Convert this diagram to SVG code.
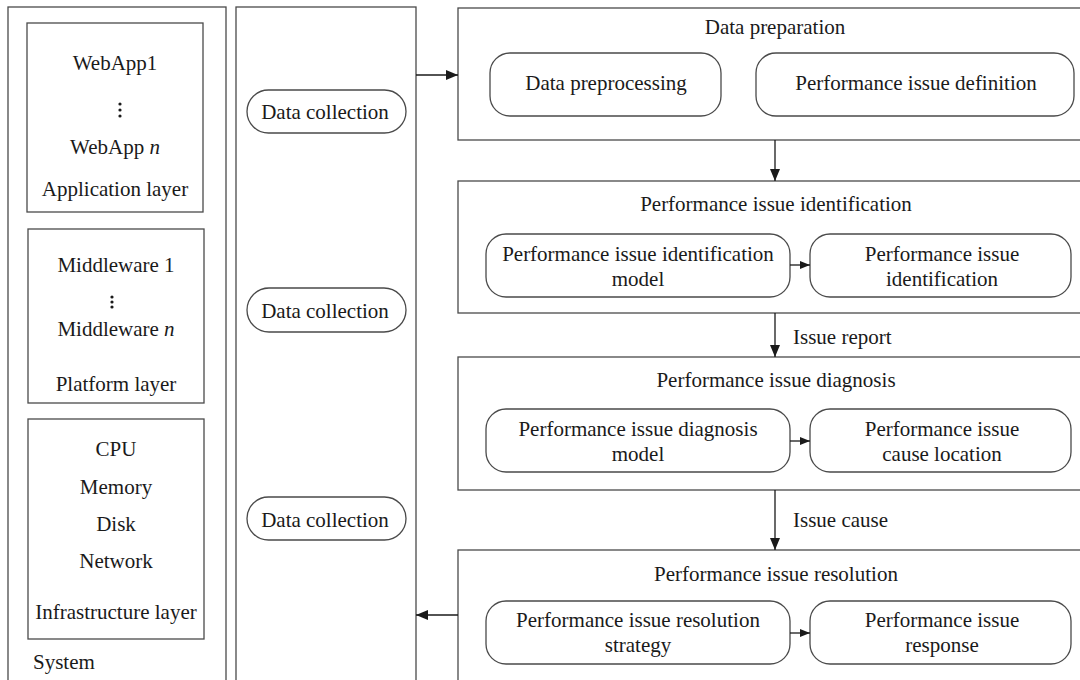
<svg xmlns="http://www.w3.org/2000/svg" width="1080" height="680" viewBox="0 0 1080 680">
  <style>
    .box { fill: none; stroke: #4a4a4a; stroke-width: 1.3; }
    .pill { fill: #fff; stroke: #4a4a4a; stroke-width: 1.3; }
    .t { font-family: "Liberation Serif", "Times New Roman", serif; font-size: 21px; fill: #1a1a1a; text-anchor: middle; }
    .tl { text-anchor: start; }
    .wire { fill: none; stroke: #1a1a1a; stroke-width: 1.3; }
  </style>
  <defs>
    <marker id="arrow" viewBox="0 0 12 10" refX="12" refY="5" markerWidth="12" markerHeight="10" markerUnits="userSpaceOnUse" orient="auto">
      <path d="M0,0 L12,5 L0,10 Z" fill="#1a1a1a"/>
    </marker>
    <marker id="arrowSmall" viewBox="0 0 10 8" refX="10" refY="4" markerWidth="10" markerHeight="8" markerUnits="userSpaceOnUse" orient="auto">
      <path d="M0,0 L10,4 L0,8 Z" fill="#1a1a1a"/>
    </marker>
  </defs>
  <rect width="1080" height="680" fill="#fff"/>

  <!-- System column with its three layers -->
  <g id="system">
    <rect class="box" x="8" y="7" width="218" height="690"/>
    <text class="t tl" x="33" y="669">System</text>
  </g>
  <g id="application-layer">
    <rect class="box" x="27" y="23" width="176" height="189"/>
    <text class="t" x="115" y="70">WebApp1</text>
    <circle cx="120" cy="104" r="1.6" fill="#1a1a1a"/>
    <circle cx="120" cy="110" r="1.6" fill="#1a1a1a"/>
    <circle cx="120" cy="116" r="1.6" fill="#1a1a1a"/>
    <text class="t" x="115" y="154">WebApp <tspan font-style="italic">n</tspan></text>
    <text class="t" x="115" y="196">Application layer</text>
  </g>
  <g id="platform-layer">
    <rect class="box" x="28" y="229" width="176" height="174"/>
    <text class="t" x="116" y="272">Middleware 1</text>
    <circle cx="112" cy="297" r="1.6" fill="#1a1a1a"/>
    <circle cx="112" cy="302" r="1.6" fill="#1a1a1a"/>
    <circle cx="112" cy="307" r="1.6" fill="#1a1a1a"/>
    <text class="t" x="116" y="336">Middleware <tspan font-style="italic">n</tspan></text>
    <text class="t" x="116" y="391">Platform layer</text>
  </g>
  <g id="infrastructure-layer">
    <rect class="box" x="28" y="419" width="176" height="220"/>
    <text class="t" x="116" y="456">CPU</text>
    <text class="t" x="116" y="494">Memory</text>
    <text class="t" x="116" y="531">Disk</text>
    <text class="t" x="116" y="568">Network</text>
    <text class="t" x="116" y="619">Infrastructure layer</text>
  </g>

  <!-- Data collection column -->
  <g id="data-collection">
    <rect class="box" x="236" y="7" width="180" height="690"/>
    <rect class="pill" x="247" y="90" width="159" height="43" rx="21.5"/>
    <text class="t" x="325" y="119">Data collection</text>
    <rect class="pill" x="247" y="288" width="159" height="44" rx="22"/>
    <text class="t" x="325" y="318">Data collection</text>
    <rect class="pill" x="247" y="497" width="159" height="43" rx="21.5"/>
    <text class="t" x="325" y="527">Data collection</text>
  </g>

  <!-- Data preparation stage -->
  <g id="data-preparation">
    <rect class="box" x="458" y="8" width="640" height="132"/>
    <text class="t" x="775" y="34">Data preparation</text>
    <rect class="pill" x="490" y="53" width="231" height="63" rx="20"/>
    <text class="t" x="606" y="90">Data preprocessing</text>
    <rect class="pill" x="756" y="53" width="318" height="63" rx="20"/>
    <text class="t" x="916" y="90">Performance issue definition</text>
  </g>

  <!-- Identification stage -->
  <g id="issue-identification">
    <rect class="box" x="458" y="181" width="640" height="132"/>
    <text class="t" x="776" y="211">Performance issue identification</text>
    <rect class="pill" x="486" y="234" width="304" height="63" rx="20"/>
    <text class="t" x="638" y="261">Performance issue identification</text>
    <text class="t" x="638" y="286">model</text>
    <rect class="pill" x="810" y="234" width="261" height="63" rx="20"/>
    <text class="t" x="942" y="261">Performance issue</text>
    <text class="t" x="942" y="286">identification</text>
  </g>

  <!-- Diagnosis stage -->
  <g id="issue-diagnosis">
    <rect class="box" x="458" y="357" width="640" height="133"/>
    <text class="t" x="776" y="387">Performance issue diagnosis</text>
    <rect class="pill" x="486" y="409" width="304" height="63" rx="20"/>
    <text class="t" x="638" y="436">Performance issue diagnosis</text>
    <text class="t" x="638" y="461">model</text>
    <rect class="pill" x="810" y="409" width="261" height="63" rx="20"/>
    <text class="t" x="942" y="436">Performance issue</text>
    <text class="t" x="942" y="461">cause location</text>
  </g>

  <!-- Resolution stage -->
  <g id="issue-resolution">
    <rect class="box" x="458" y="550" width="640" height="150"/>
    <text class="t" x="776" y="581">Performance issue resolution</text>
    <rect class="pill" x="486" y="601" width="304" height="63" rx="20"/>
    <text class="t" x="638" y="627">Performance issue resolution</text>
    <text class="t" x="638" y="652">strategy</text>
    <rect class="pill" x="810" y="601" width="261" height="63" rx="20"/>
    <text class="t" x="942" y="627">Performance issue</text>
    <text class="t" x="942" y="652">response</text>
  </g>

  <!-- Connectors -->
  <g id="connectors">
    <line class="wire" x1="416" y1="75" x2="458" y2="75" marker-end="url(#arrow)"/>
    <line class="wire" x1="775" y1="140" x2="775" y2="181" marker-end="url(#arrow)"/>
    <line class="wire" x1="775" y1="313" x2="775" y2="357" marker-end="url(#arrow)"/>
    <text class="t tl" x="793" y="344">Issue report</text>
    <line class="wire" x1="775" y1="490" x2="775" y2="550" marker-end="url(#arrow)"/>
    <text class="t tl" x="793" y="527">Issue cause</text>
    <line class="wire" x1="458" y1="615" x2="416" y2="615" marker-end="url(#arrow)"/>
    <line class="wire" x1="790" y1="265" x2="810" y2="265" marker-end="url(#arrowSmall)"/>
    <line class="wire" x1="790" y1="441" x2="810" y2="441" marker-end="url(#arrowSmall)"/>
    <line class="wire" x1="790" y1="633" x2="810" y2="633" marker-end="url(#arrowSmall)"/>
  </g>
</svg>
